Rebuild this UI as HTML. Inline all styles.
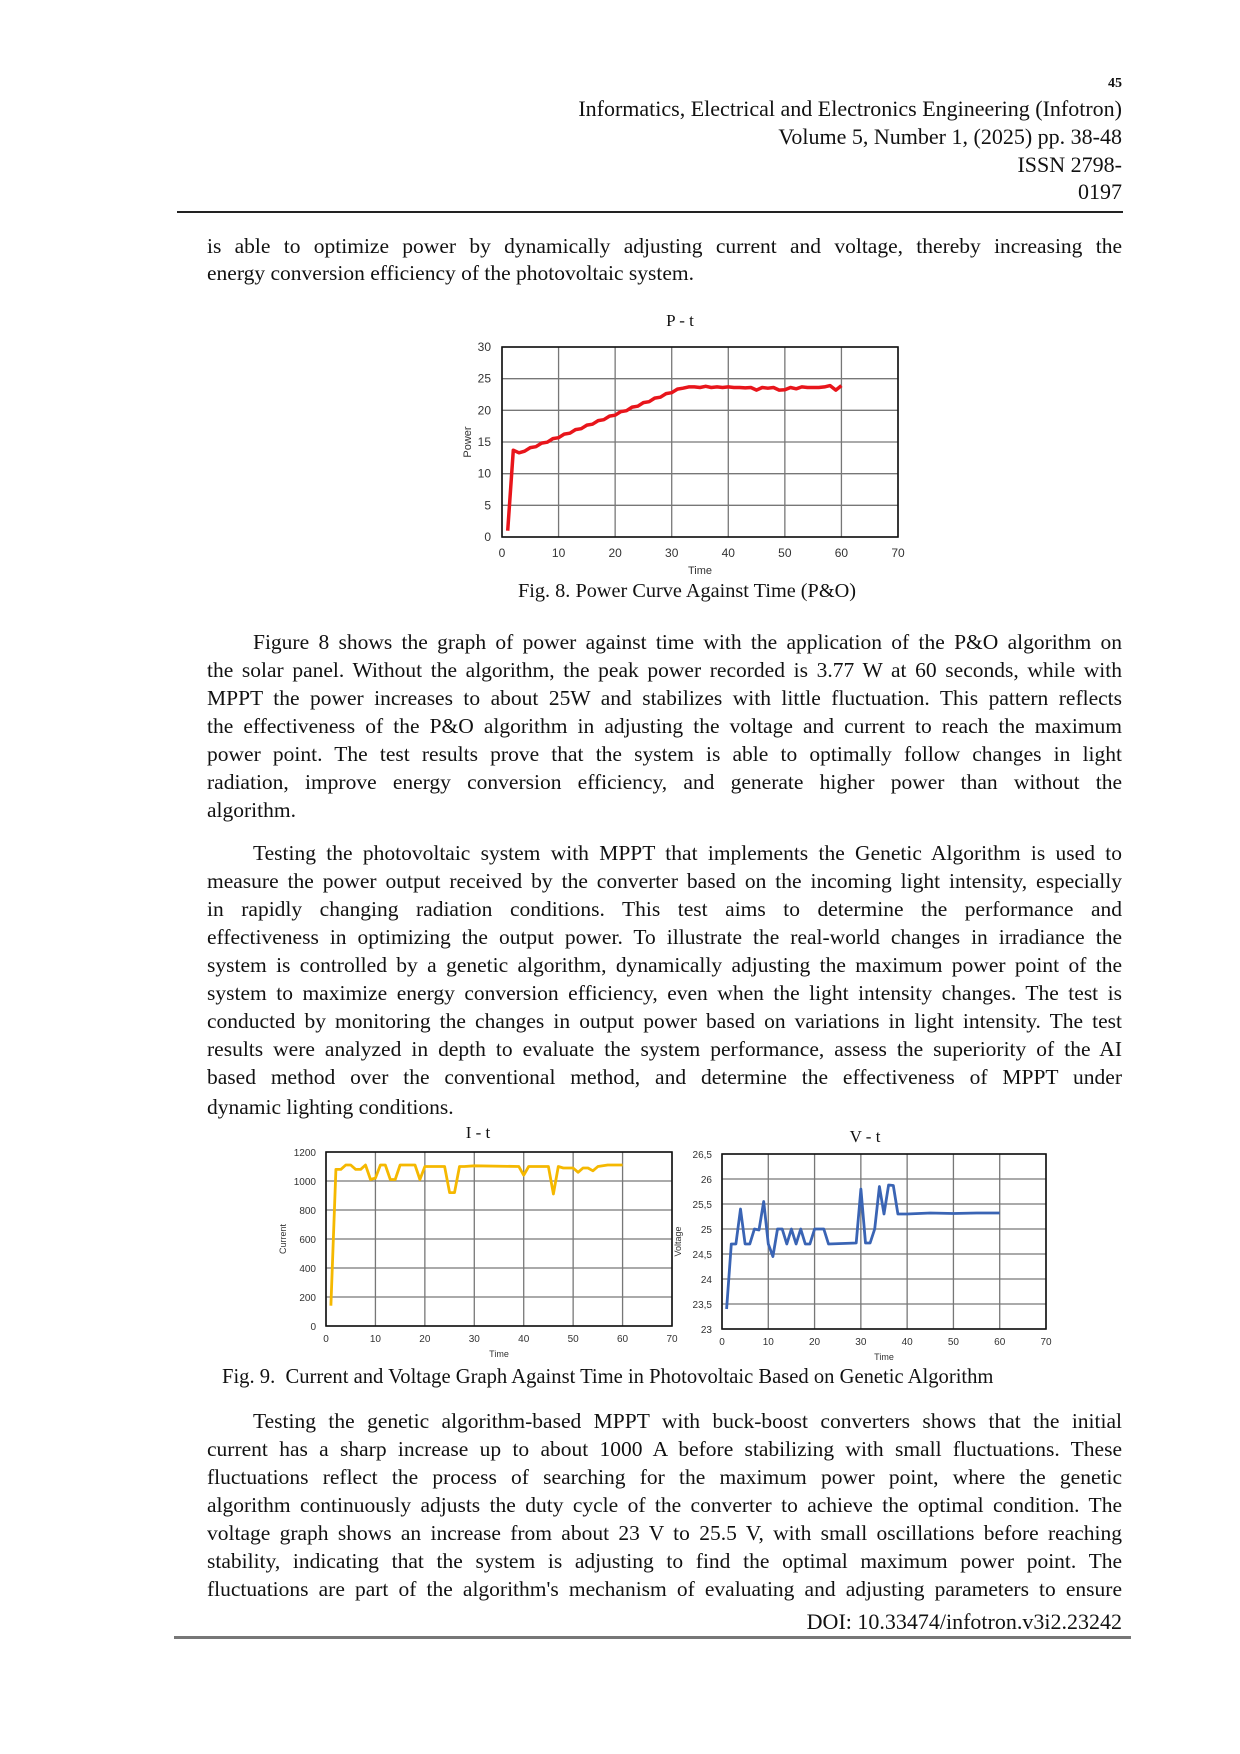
<!DOCTYPE html>
<html><head><meta charset="utf-8">
<style>
html,body{margin:0;padding:0;background:#fff;}
body{width:1240px;height:1754px;position:relative;overflow:hidden;font-family:"Liberation Serif",serif;color:#111;}
.l{position:absolute;left:207px;width:915px;font-size:21.5px;line-height:20px;white-space:nowrap;text-align:justify;text-align-last:justify;}
.l.i{left:253px;width:869px;}
.l.e{text-align-last:left;}
.r{position:absolute;right:118px;font-size:22px;line-height:20px;white-space:nowrap;text-align:right;}
.hr{position:absolute;height:2px;background:#222;}
svg text{font-family:"Liberation Sans",sans-serif;}
</style></head><body>
<div class="r" style="top:74px;font-size:14px;font-weight:bold;">45</div>
<div class="r" style="top:99px;">Informatics, Electrical and Electronics Engineering (Infotron)</div>
<div class="r" style="top:127px;">Volume 5, Number 1, (2025) pp. 38-48</div>
<div class="r" style="top:155px;">ISSN 2798-</div>
<div class="r" style="top:182px;">0197</div>
<div class="hr" style="left:177px;width:946px;top:211px;"></div>

<div class="l" style="top:236px;">is able to optimize power by dynamically adjusting current and voltage, thereby increasing the</div>
<div class="l e" style="top:263px;">energy conversion efficiency of the photovoltaic system.</div>

<svg style="position:absolute;left:0;top:0" width="1240" height="1754" id="s"></svg>

<div class="l e" style="top:581px;left:0;width:1374px;text-align:center;text-align-last:center;font-size:20.3px;">Fig. 8. Power Curve Against Time (P&amp;O)</div>

<div class="l i" style="top:632px;">Figure 8 shows the graph of power against time with the application of the P&amp;O algorithm on</div>
<div class="l" style="top:660px;">the solar panel. Without the algorithm, the peak power recorded is 3.77 W at 60 seconds, while with</div>
<div class="l" style="top:688px;">MPPT the power increases to about 25W and stabilizes with little fluctuation. This pattern reflects</div>
<div class="l" style="top:716px;">the effectiveness of the P&amp;O algorithm in adjusting the voltage and current to reach the maximum</div>
<div class="l" style="top:744px;">power point. The test results prove that the system is able to optimally follow changes in light</div>
<div class="l" style="top:772px;">radiation, improve energy conversion efficiency, and generate higher power than without the</div>
<div class="l e" style="top:800px;">algorithm.</div>

<div class="l i" style="top:843px;">Testing the photovoltaic system with MPPT that implements the Genetic Algorithm is used to</div>
<div class="l" style="top:871px;">measure the power output received by the converter based on the incoming light intensity, especially</div>
<div class="l" style="top:899px;">in rapidly changing radiation conditions. This test aims to determine the performance and</div>
<div class="l" style="top:927px;">effectiveness in optimizing the output power. To illustrate the real-world changes in irradiance the</div>
<div class="l" style="top:955px;">system is controlled by a genetic algorithm, dynamically adjusting the maximum power point of the</div>
<div class="l" style="top:983px;">system to maximize energy conversion efficiency, even when the light intensity changes. The test is</div>
<div class="l" style="top:1011px;">conducted by monitoring the changes in output power based on variations in light intensity. The test</div>
<div class="l" style="top:1039px;">results were analyzed in depth to evaluate the system performance, assess the superiority of the AI</div>
<div class="l" style="top:1067px;">based method over the conventional method, and determine the effectiveness of MPPT under</div>
<div class="l e" style="top:1097px;">dynamic lighting conditions.</div>

<div class="l e" style="top:1367px;left:222px;font-size:20.6px;">Fig. 9.&nbsp; Current and Voltage Graph Against Time in Photovoltaic Based on Genetic Algorithm</div>

<div class="l i" style="top:1411px;">Testing the genetic algorithm-based MPPT with buck-boost converters shows that the initial</div>
<div class="l" style="top:1439px;">current has a sharp increase up to about 1000 A before stabilizing with small fluctuations. These</div>
<div class="l" style="top:1467px;">fluctuations reflect the process of searching for the maximum power point, where the genetic</div>
<div class="l" style="top:1495px;">algorithm continuously adjusts the duty cycle of the converter to achieve the optimal condition. The</div>
<div class="l" style="top:1523px;">voltage graph shows an increase from about 23 V to 25.5 V, with small oscillations before reaching</div>
<div class="l" style="top:1551px;">stability, indicating that the system is adjusting to find the optimal maximum power point. The</div>
<div class="l" style="top:1579px;">fluctuations are part of the algorithm's mechanism of evaluating and adjusting parameters to ensure</div>
<div class="r" style="top:1612px;">DOI: 10.33474/infotron.v3i2.23242</div>
<div class="hr" style="left:174px;width:957px;top:1636px;background:#777;height:3px;"></div>

<script>
var s=document.getElementById('s'),h='';
function chart(o){
  var L=o.L,R=o.R,T=o.T,B=o.B;
  function X(v){return L+(v-o.x0)/(o.x1-o.x0)*(R-L);}
  function Y(v){return B-(v-o.y0)/(o.y1-o.y0)*(B-T);}
  for(var v=o.x0;v<=o.x1+1e-9;v+=o.dx){var x=X(v);
    h+='<line x1="'+x+'" y1="'+T+'" x2="'+x+'" y2="'+B+'" stroke="#777" stroke-width="1.3"/>';
    h+='<text x="'+x+'" y="'+(B+o.xl)+'" font-size="'+o.fs+'" fill="#333" text-anchor="middle">'+v+'</text>';}
  for(var v=o.y0;v<=o.y1+1e-9;v+=o.dy){var y=Y(v);
    h+='<line x1="'+L+'" y1="'+y+'" x2="'+R+'" y2="'+y+'" stroke="#777" stroke-width="1.3"/>';
    var lab=(Math.round(v*10)/10+'').replace('.',',');
    h+='<text x="'+(L-o.yl)+'" y="'+(y+4)+'" font-size="'+o.fs+'" fill="#333" text-anchor="end">'+lab+'</text>';}
  h+='<rect x="'+L+'" y="'+T+'" width="'+(R-L)+'" height="'+(B-T)+'" fill="none" stroke="#111" stroke-width="1.6"/>';
  var p=o.d.map(function(d){return X(d[0]).toFixed(1)+','+Y(d[1]).toFixed(1)}).join(' ');
  h+='<polyline points="'+p+'" fill="none" stroke="'+o.c+'" stroke-width="'+o.w+'" stroke-linejoin="round"/>';
  h+='<text x="'+((L+R)/2)+'" y="'+(B+o.tl)+'" font-size="'+(o.fs-1)+'" fill="#333" text-anchor="middle">Time</text>';
  h+='<text transform="translate('+o.ax+','+((T+B)/2)+') rotate(-90)" font-size="'+(o.fs-1)+'" fill="#333" text-anchor="middle">'+o.yt+'</text>';
  h+='<text x="'+o.tx+'" y="'+o.ty+'" font-size="17" fill="#111" text-anchor="middle" style="font-family:Liberation Serif,serif">'+o.t+'</text>';
}
var P=[[1,1],[2,13.7],[3,13.3]];
for(var t=4;t<=32;t++){P.push([t,13.3+(t-3)*(23.6-13.3)/29+(t%2?0.1:-0.1)]);}
var tail={33:23.7,34:23.7,35:23.6,36:23.8,37:23.6,38:23.7,39:23.6,40:23.7,41:23.6,42:23.6,43:23.55,44:23.6,45:23.2,46:23.6,47:23.5,48:23.6,49:23.2,50:23.25,51:23.6,52:23.4,53:23.7,54:23.6,55:23.6,56:23.6,57:23.7,58:23.9,59:23.2,60:23.9};
for(var k in tail)P.push([+k,tail[k]]);
chart({L:502,R:898,T:347,B:537,x0:0,x1:70,dx:10,y0:0,y1:30,dy:5,d:P,c:'#e8151b',w:3.5,fs:12,xl:20,yl:11,tl:37,ax:471,yt:'Power',t:'P - t',tx:680,ty:326});
var Iv={1:140,2:1080,3:1080,4:1110,5:1110,6:1080,7:1080,8:1110,9:1010,10:1020,11:1110,12:1110,13:1010,14:1010,15:1110,16:1110,17:1110,18:1110,19:1010,20:1100,21:1100,22:1100,23:1100,24:1100,25:920,26:920,27:1100,28:1100,30:1105,39:1100,40:1040,41:1100,45:1100,46:910,47:1100,48:1090,50:1090,51:1060,52:1090,53:1090,54:1070,55:1100,57:1110,60:1110};
var I=[];for(var k in Iv)I.push([+k,Iv[k]]);
chart({L:326,R:672,T:1152,B:1326,x0:0,x1:70,dx:10,y0:0,y1:1200,dy:200,d:I,c:'#f5b800',w:2.8,fs:10,xl:16,yl:10,tl:31,ax:286,yt:'Current',t:'I - t',tx:478,ty:1138});
var Vv={1:23.4,2:24.7,3:24.7,4:25.4,5:24.7,6:24.7,7:25,8:24.98,9:25.55,10:24.7,11:24.45,12:25,13:25,14:24.7,15:25,16:24.7,17:25,18:24.7,19:24.7,20:25,22:25,23:24.7,29:24.72,30:25.8,31:24.72,32:24.72,33:25,34:25.85,35:25.3,36:25.88,37:25.87,38:25.3,40:25.3,45:25.32,50:25.31,55:25.32,60:25.32};
var V=[];for(var k in Vv)V.push([+k,Vv[k]]);
chart({L:722,R:1046,T:1154,B:1329,x0:0,x1:70,dx:10,y0:23,y1:26.5,dy:0.5,d:V,c:'#3a64b4',w:2.8,fs:10,xl:16,yl:10,tl:31,ax:681,yt:'Voltage',t:'V - t',tx:865,ty:1142});
s.innerHTML=h;
</script>
</body></html>
